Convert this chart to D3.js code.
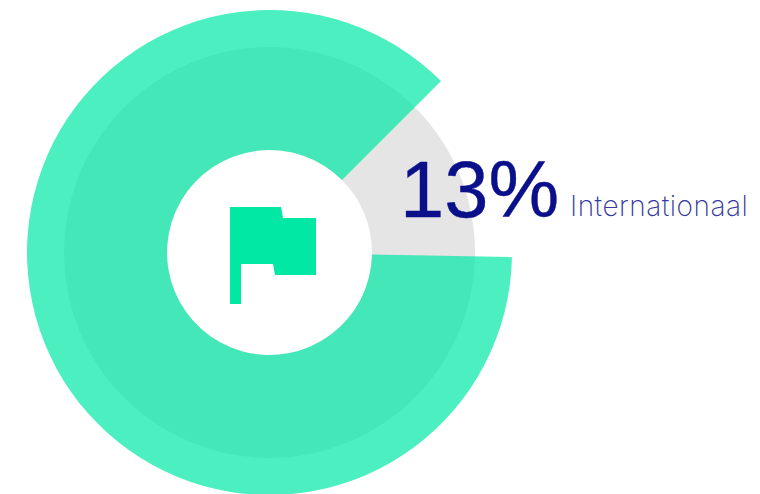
<!DOCTYPE html>
<html>
<head>
<meta charset="utf-8">
<script src="https://cdn.jsdelivr.net/npm/d3@7"></script>
<style>
    html, body { margin: 0; padding: 0; background: #fff; }
    svg { display: block; }
</style>
</head>
<body>
<script>
var width = 760,
    height = 494;

var categories = ['Nationaal', 'Internationaal'];
var values = [87.2, 12.8];
var highlight = 'Internationaal';

var cx = 269.5,
    cy = 252.5,
    innerRadius = 102.5,
    trackRadius = 205.5,
    outerRadius = 242.5;

var green = '#00e8a4',
    navy = '#0a0f8a';

var svg = d3.select('body')
    .append('svg')
    .attr('width', width)
    .attr('height', height);

var chart = svg.append('g')
    .attr('transform', 'translate(' + cx + ',' + cy + ')');

// grey ring sits under the whole chart
chart.append('path')
    .attr('d', d3.arc()
        .innerRadius(innerRadius)
        .outerRadius(trackRadius)
        .startAngle(0)
        .endAngle(2 * Math.PI)())
    .attr('fill', '#e5e5e5');

var start = 91.1 * Math.PI / 180;

var pie = d3.pie()
    .sort(null)
    .startAngle(start)
    .endAngle(start + 2 * Math.PI);

var arc = d3.arc()
    .innerRadius(innerRadius)
    .outerRadius(outerRadius);

var slices = pie(values).map(function (d, i) {
    d.category = categories[i];
    return d;
});

chart.selectAll('path.slice')
    .data(slices.filter(function (d) { return d.category !== highlight; }))
    .enter()
    .append('path')
    .attr('class', 'slice')
    .attr('d', arc)
    .attr('fill', green)
    .attr('fill-opacity', 0.7);

// flag icon
svg.append('path')
    .attr('d', 'M230 207H281L283 218H316V275H275L273 264H241V304H230Z')
    .attr('fill', green);

svg.append('text')
    .attr('x', 400)
    .attr('y', 217)
    .attr('font-family', 'Liberation Sans')
    .attr('font-size', 79.5)
    .attr('fill', navy)
    .attr('stroke', navy)
    .attr('stroke-width', 0.4)
    .text(Math.round(values[1]) + '%');

svg.append('text')
    .attr('x', 570)
    .attr('y', 216)
    .attr('font-family', 'Inter')
    .attr('font-weight', 200)
    .attr('font-size', 28)
    .attr('letter-spacing', 0.5)
    .attr('fill', '#3539a0')
    .text(highlight);
</script>
</body>
</html>
